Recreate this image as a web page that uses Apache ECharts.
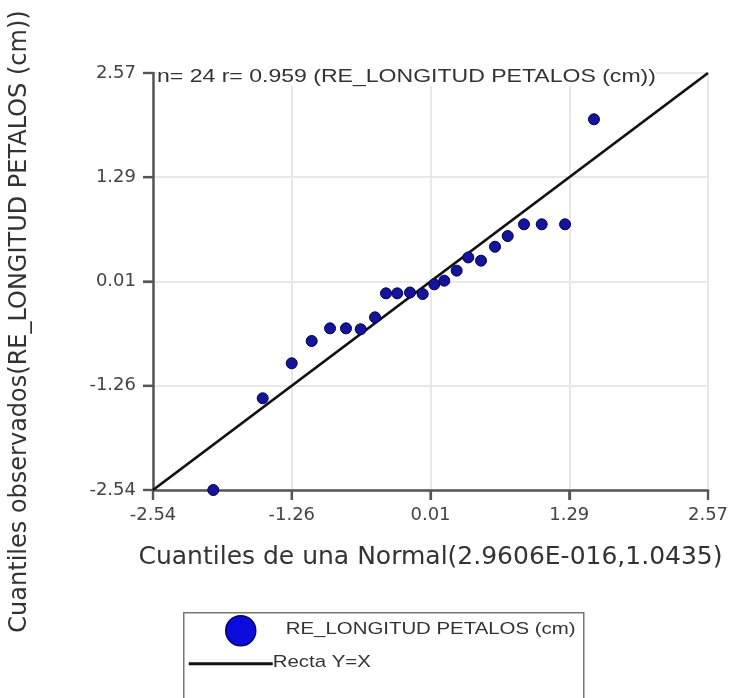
<!DOCTYPE html>
<html>
<head>
<meta charset="utf-8">
<style>
html,body{margin:0;padding:0;background:#fff;}
#chart{width:738px;height:698px;}
</style>
<script src="https://cdn.jsdelivr.net/npm/echarts@6/dist/echarts.min.js"></script>
</head>
<body>
<div id="chart"></div>
<script>
// Normal quantiles (x) and observed quantiles (y)
const normalQuantiles = [-1.985, -1.53, -1.263, -1.079, -0.91, -0.763, -0.628, -0.496, -0.395, -0.291, -0.174, -0.057, 0.05, 0.142, 0.256, 0.363, 0.48, 0.609, 0.726, 0.876, 1.039, 1.254, 1.52];
const observedQuantiles = [-2.54, -1.416, -0.987, -0.714, -0.559, -0.559, -0.57, -0.424, -0.13, -0.13, -0.12, -0.138, -0.02, 0.025, 0.148, 0.31, 0.27, 0.441, 0.572, 0.716, 0.716, 0.716, 2.003];
const refLineX = [-2.54, 2.57];
const refLineY = [-2.54, 2.57];
const tickValues = [-2.54, -1.2625, 0.015, 1.2925, 2.57];
const tickLabels = ['-2.54', '-1.26', '0.01', '1.29', '2.57'];
const seriesName = 'RE_LONGITUD PETALOS (cm)';
const lineName = 'Recta Y=X';
const annotation = 'n= 24 r= 0.959 (RE_LONGITUD PETALOS (cm))';
const xTitle = 'Cuantiles de una Normal(2.9606E-016,1.0435)';
const yTitle = 'Cuantiles observados(RE_LONGITUD PETALOS (cm))';

const chart = echarts.init(document.getElementById('chart'));

function axisCommon() {
  return {
    type: 'value',
    min: tickValues[0],
    max: tickValues[tickValues.length - 1],
    axisLine: { show: true, onZero: false, lineStyle: { color: '#555', width: 2.5 } },
    axisTick: { show: true, length: 10, customValues: tickValues, lineStyle: { color: '#555', width: 2.2 } },
    axisLabel: {
      customValues: tickValues,
      formatter: function (v) {
        let best = 0;
        for (let i = 1; i < tickValues.length; i++) {
          if (Math.abs(tickValues[i] - v) < Math.abs(tickValues[best] - v)) best = i;
        }
        return tickLabels[best];
      },
      color: '#444',
      fontFamily: 'DejaVu Sans',
      fontSize: 18
    },
    splitLine: { show: true, lineStyle: { color: '#e8e8e8', width: 2 } }
  };
}

const xAxis = Object.assign(axisCommon(), {
  name: xTitle,
  nameLocation: 'middle',
  nameGap: 55,
  nameTextStyle: { color: '#333', fontFamily: 'DejaVu Sans', fontSize: 25 }
});
xAxis.axisLabel.margin = 16;

const yAxis = Object.assign(axisCommon(), {
  name: yTitle,
  nameLocation: 'middle',
  nameGap: 121,
  nameRotate: 90,
  nameTextStyle: { color: '#333', fontFamily: 'DejaVu Sans', fontSize: 24, padding: [0, 80, 0, 0] }
});
yAxis.axisLabel.margin = 17;

const scatterData = normalQuantiles.map((x, i) => [x, observedQuantiles[i]]);
const lineData = refLineX.map((x, i) => [x, refLineY[i]]);
const xTickMarks = tickValues.map(v => [v, tickValues[0]]);
const yTickMarks = tickValues.map(v => [tickValues[0], v]);

chart.setOption({
  animation: false,
  backgroundColor: '#fff',
  grid: { left: 153, right: 30, top: 73, bottom: 208, containLabel: false, outerBoundsMode: 'none' },
  xAxis: xAxis,
  yAxis: yAxis,
  series: [
    {
      type: 'scatter',
      data: xTickMarks,
      symbol: 'rect',
      symbolSize: [2.2, 10],
      symbolOffset: [0, 5],
      clip: false,
      silent: true,
      itemStyle: { color: '#555', opacity: 1 },
      z: 1
    },
    {
      type: 'scatter',
      data: yTickMarks,
      symbol: 'rect',
      symbolSize: [10, 2.2],
      symbolOffset: [-5, 0],
      clip: false,
      silent: true,
      itemStyle: { color: '#555', opacity: 1 },
      z: 1
    },
    {
      name: lineName,
      type: 'line',
      data: lineData,
      showSymbol: false,
      symbol: 'none',
      lineStyle: { color: '#111', width: 2.8 },
      z: 2
    },
    {
      name: seriesName,
      type: 'scatter',
      data: scatterData,
      symbolSize: 11,
      clip: false,
      itemStyle: { color: '#14149c', borderColor: '#00004a', borderWidth: 1, opacity: 1 },
      z: 3
    }
  ],
  graphic: [
    {
      type: 'text',
      left: 157,
      top: 68,
      scaleX: 1.28,
      z: 10,
      style: { text: annotation, fill: '#333', backgroundColor: '#fff', font: '18px "Liberation Sans", Arial, sans-serif' }
    },
    {
      type: 'group',
      left: 183,
      top: 612,
      children: [
        { type: 'rect', shape: { x: 0, y: 0, width: 400, height: 100 }, style: { fill: '#fff', stroke: '#777', lineWidth: 1.5 } },
        { type: 'circle', shape: { cx: 57, cy: 18, r: 15 }, style: { fill: '#0b0bdc', stroke: '#00006a', lineWidth: 1.5 } },
        { type: 'text', x: 102, y: 8, scaleX: 1.2, style: { text: seriesName, fill: '#333', font: '17px "Liberation Sans", Arial, sans-serif' } },
        { type: 'line', shape: { x1: 5, y1: 51, x2: 89, y2: 51 }, style: { stroke: '#111', lineWidth: 3 } },
        { type: 'text', x: 89, y: 41, scaleX: 1.2, style: { text: lineName, fill: '#333', font: '17px "Liberation Sans", Arial, sans-serif' } }
      ]
    }
  ]
});
</script>
</body>
</html>
